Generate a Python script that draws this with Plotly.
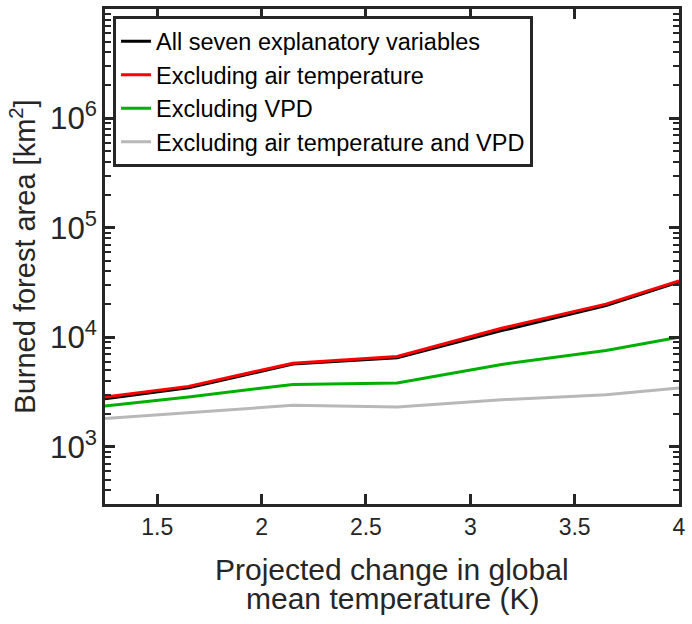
import plotly.graph_objects as go

x_vals = [1.25, 1.65, 2.15, 2.65, 3.15, 3.65, 4.0]
all_seven = [2750, 3450, 5700, 6500, 11500, 19500, 32000]
excl_air = [2850, 3560, 5800, 6670, 12080, 20100, 32700]
excl_vpd = [2360, 2850, 3710, 3820, 5650, 7570, 10000]
excl_both = [1810, 2050, 2390, 2310, 2690, 2990, 3440]

names = ["All seven explanatory variables", "Excluding air temperature",
         "Excluding VPD", "Excluding air temperature and VPD"]
colors = ["#000000", "#ff0000", "#00b000", "#b8b8b8"]
series = [all_seven, excl_air, excl_vpd, excl_both]

x_title_lines = ["Projected change in global", "mean temperature (K)"]
y_title = "Burned forest area [km<sup>2</sup>]"

fig = go.Figure()
for n, c, s in zip(names, colors, series):
    fig.add_trace(go.Scatter(x=x_vals, y=s, mode="lines", name=n,
                             line=dict(color=c, width=3)))

axcol = "#262626"
font = "Liberation Sans, Arial, sans-serif"
fig.update_layout(
    width=692, height=624,
    margin=dict(l=105, r=6, t=7, b=120),
    plot_bgcolor="white", paper_bgcolor="white",
    font=dict(family=font, color=axcol, size=22),
    showlegend=True,
    legend=dict(x=0.014, y=0.985, xanchor="left", yanchor="top",
                bgcolor="white", bordercolor=axcol, borderwidth=3,
                font=dict(size=23.5, color="black", family=font),
                tracegroupgap=0, itemwidth=30),
)
for i, t in enumerate(x_title_lines):
    fig.add_annotation(text=t, xref="paper", yref="paper", x=0.5, y=-0.133 - 0.058 * i,
                       xanchor="center", yanchor="middle", showarrow=False,
                       font=dict(size=30, color=axcol, family=font))
fig.update_xaxes(
    range=[1.25, 4], tick0=1.5, dtick=0.5,
    showgrid=False, zeroline=False, showline=True, linecolor=axcol, linewidth=3,
    mirror="ticks", ticks="inside", ticklen=10, tickwidth=3, tickcolor=axcol,
    tickfont=dict(size=23, color=axcol),
)
fig.update_yaxes(
    type="log", range=[2.477, 6.999], dtick=1, exponentformat="power", showexponent="all",
    showgrid=False, zeroline=False, showline=True, linecolor=axcol, linewidth=3,
    mirror="ticks", ticks="inside", ticklen=10, tickwidth=3, tickcolor=axcol,
    tickfont=dict(size=25, color=axcol),
    minor=dict(ticks="inside", ticklen=6, tickwidth=2, tickcolor=axcol, showgrid=False),
    title=dict(text=y_title, font=dict(size=29, color=axcol), standoff=6),
)
fig.write_html("out.html")
